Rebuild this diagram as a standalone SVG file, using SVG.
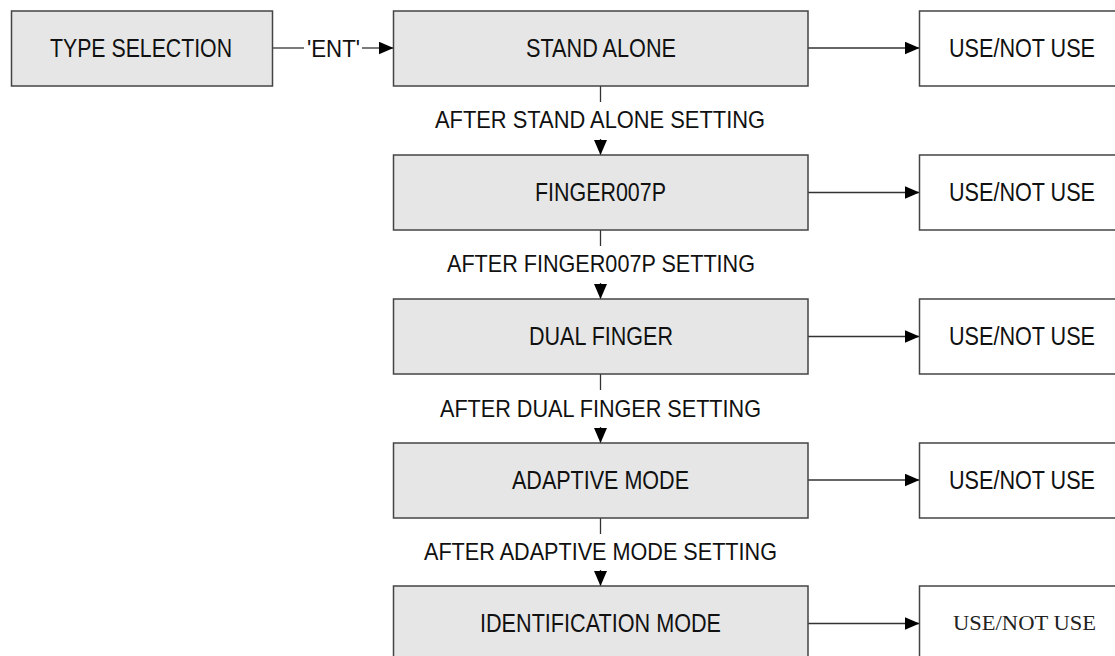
<svg xmlns="http://www.w3.org/2000/svg" width="1115" height="656" viewBox="0 0 1115 656">
<style>
.box{fill:#e6e6e6;stroke:#444;stroke-width:1.5}
.out{fill:#fff;stroke:#444;stroke-width:1.5}
.t{font-family:"Liberation Sans",Arial,sans-serif;font-size:26px;fill:#111;text-anchor:middle}
.l{font-family:"Liberation Sans",Arial,sans-serif;font-size:24px;fill:#111;text-anchor:middle}
.s{font-family:"Liberation Serif","Times New Roman",serif;font-size:22px;fill:#222;text-anchor:middle}
.c{fill:none;stroke:#333;stroke-width:1.3}
.a{marker-end:url(#ah)}
</style>
<defs>
<marker id="ah" markerUnits="userSpaceOnUse" markerWidth="15" markerHeight="13" refX="15" refY="6.5" orient="auto">
<path d="M0,0 L15,6.5 L0,13 z" fill="#000"/>
</marker>
</defs>
<rect width="1115" height="656" fill="#fff"/>
<g id="connectors">
<path class="c" d="M273,48 H304"/>
<path class="c a" d="M362,48 H393.5"/>
<text class="l" x="333.5" y="57" textLength="53" lengthAdjust="spacingAndGlyphs">'ENT'</text>
<path class="c a" d="M808,48 H919.5"/>
<path class="c a" d="M808,192.5 H919.5"/>
<path class="c a" d="M808,336.5 H919.5"/>
<path class="c a" d="M808,480 H919.5"/>
<path class="c a" d="M808,623.5 H919.5"/>
<path class="c" d="M600.5,86 V102"/>
<path class="c a" d="M600.5,139 V155"/>
<text class="l" x="600" y="128" textLength="330" lengthAdjust="spacingAndGlyphs">AFTER STAND ALONE SETTING</text>
<path class="c" d="M600.5,230 V246"/>
<path class="c a" d="M600.5,283 V299"/>
<text class="l" x="601" y="272" textLength="308" lengthAdjust="spacingAndGlyphs">AFTER FINGER007P SETTING</text>
<path class="c" d="M600.5,374 V390"/>
<path class="c a" d="M600.5,427 V443"/>
<text class="l" x="600.5" y="417" textLength="321" lengthAdjust="spacingAndGlyphs">AFTER DUAL FINGER SETTING</text>
<path class="c" d="M600.5,518 V534"/>
<path class="c a" d="M600.5,570 V586"/>
<text class="l" x="600.5" y="560" textLength="353" lengthAdjust="spacingAndGlyphs">AFTER ADAPTIVE MODE SETTING</text>
</g>
<g id="type-selection">
<rect class="box" x="11.5" y="11" width="261" height="75"/>
<text class="t" x="141" y="57" textLength="182" lengthAdjust="spacingAndGlyphs">TYPE SELECTION</text>
</g>
<g id="stand-alone">
<rect class="box" x="393.5" y="11" width="414.5" height="75"/>
<text class="t" x="601" y="57" textLength="150" lengthAdjust="spacingAndGlyphs">STAND ALONE</text>
</g>
<g id="use-1">
<rect class="out" x="919.5" y="11" width="197" height="75"/>
<text class="t" x="1022" y="57" textLength="146" lengthAdjust="spacingAndGlyphs">USE/NOT USE</text>
</g>
<g id="finger007p">
<rect class="box" x="393.5" y="155" width="414.5" height="75"/>
<text class="t" x="600.5" y="201" textLength="131" lengthAdjust="spacingAndGlyphs">FINGER007P</text>
</g>
<g id="use-2">
<rect class="out" x="919.5" y="155" width="197" height="75"/>
<text class="t" x="1022" y="201" textLength="146" lengthAdjust="spacingAndGlyphs">USE/NOT USE</text>
</g>
<g id="dual-finger">
<rect class="box" x="393.5" y="299" width="414.5" height="75"/>
<text class="t" x="601" y="345" textLength="144" lengthAdjust="spacingAndGlyphs">DUAL FINGER</text>
</g>
<g id="use-3">
<rect class="out" x="919.5" y="299" width="197" height="75"/>
<text class="t" x="1022" y="345" textLength="146" lengthAdjust="spacingAndGlyphs">USE/NOT USE</text>
</g>
<g id="adaptive-mode">
<rect class="box" x="393.5" y="443" width="414.5" height="75"/>
<text class="t" x="600.5" y="488.5" textLength="177" lengthAdjust="spacingAndGlyphs">ADAPTIVE MODE</text>
</g>
<g id="use-4">
<rect class="out" x="919.5" y="443" width="197" height="75"/>
<text class="t" x="1022" y="488.5" textLength="146" lengthAdjust="spacingAndGlyphs">USE/NOT USE</text>
</g>
<g id="identification-mode">
<rect class="box" x="393.5" y="586" width="414.5" height="72"/>
<text class="t" x="600.5" y="632" textLength="241" lengthAdjust="spacingAndGlyphs">IDENTIFICATION MODE</text>
</g>
<g id="use-5">
<rect class="out" x="919.5" y="586" width="197" height="72"/>
<text class="s" x="1024.5" y="630" textLength="143" lengthAdjust="spacingAndGlyphs">USE/NOT USE</text>
</g>
</svg>
